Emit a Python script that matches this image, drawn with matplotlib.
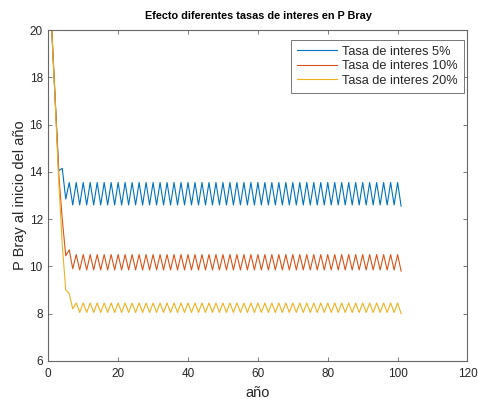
import numpy as np
import matplotlib
matplotlib.use('Agg')
import matplotlib.pyplot as plt

plt.rcParams['font.family'] = ['Liberation Sans', 'DejaVu Sans']

# P Bray al inicio de cada año, años 1..101
anios = np.arange(1, 102)

p_5 = [20.0, 17.0, 14.05, 14.15, 12.85, 13.55,
       12.6, 13.55, 12.6, 13.55, 12.6, 13.55, 12.6, 13.55, 12.6, 13.55,
       12.6, 13.55, 12.6, 13.55, 12.6, 13.55, 12.6, 13.55, 12.6, 13.55,
       12.6, 13.55, 12.6, 13.55, 12.6, 13.55, 12.6, 13.55, 12.6, 13.55,
       12.6, 13.55, 12.6, 13.55, 12.6, 13.55, 12.6, 13.55, 12.6, 13.55,
       12.6, 13.55, 12.6, 13.55, 12.6, 13.55, 12.6, 13.55, 12.6, 13.55,
       12.6, 13.55, 12.6, 13.55, 12.6, 13.55, 12.6, 13.55, 12.6, 13.55,
       12.6, 13.55, 12.6, 13.55, 12.6, 13.55, 12.6, 13.55, 12.6, 13.55,
       12.6, 13.55, 12.6, 13.55, 12.6, 13.55, 12.6, 13.55, 12.6, 13.55,
       12.6, 13.55, 12.6, 13.55, 12.6, 13.55, 12.6, 13.55, 12.6, 13.55,
       12.6, 13.55, 12.6, 13.55, 12.55]

p_10 = [20.0, 17.0, 13.9, 12.0, 10.45, 10.7,
        9.9, 10.5, 9.85, 10.5, 9.85, 10.5, 9.85, 10.5, 9.85, 10.5,
        9.85, 10.5, 9.85, 10.5, 9.85, 10.5, 9.85, 10.5, 9.85, 10.5,
        9.85, 10.5, 9.85, 10.5, 9.85, 10.5, 9.85, 10.5, 9.85, 10.5,
        9.85, 10.5, 9.85, 10.5, 9.85, 10.5, 9.85, 10.5, 9.85, 10.5,
        9.85, 10.5, 9.85, 10.5, 9.85, 10.5, 9.85, 10.5, 9.85, 10.5,
        9.85, 10.5, 9.85, 10.5, 9.85, 10.5, 9.85, 10.5, 9.85, 10.5,
        9.85, 10.5, 9.85, 10.5, 9.85, 10.5, 9.85, 10.5, 9.85, 10.5,
        9.85, 10.5, 9.85, 10.5, 9.85, 10.5, 9.85, 10.5, 9.85, 10.5,
        9.85, 10.5, 9.85, 10.5, 9.85, 10.5, 9.85, 10.5, 9.85, 10.5,
        9.85, 10.5, 9.85, 10.5, 9.8]

p_20 = [20.0, 16.9, 13.6, 10.9, 9.0, 8.85,
        8.2, 8.45, 8.05, 8.45, 8.05, 8.45, 8.05, 8.45, 8.05, 8.45,
        8.05, 8.45, 8.05, 8.45, 8.05, 8.45, 8.05, 8.45, 8.05, 8.45,
        8.05, 8.45, 8.05, 8.45, 8.05, 8.45, 8.05, 8.45, 8.05, 8.45,
        8.05, 8.45, 8.05, 8.45, 8.05, 8.45, 8.05, 8.45, 8.05, 8.45,
        8.05, 8.45, 8.05, 8.45, 8.05, 8.45, 8.05, 8.45, 8.05, 8.45,
        8.05, 8.45, 8.05, 8.45, 8.05, 8.45, 8.05, 8.45, 8.05, 8.45,
        8.05, 8.45, 8.05, 8.45, 8.05, 8.45, 8.05, 8.45, 8.05, 8.45,
        8.05, 8.45, 8.05, 8.45, 8.05, 8.45, 8.05, 8.45, 8.05, 8.45,
        8.05, 8.45, 8.05, 8.45, 8.05, 8.45, 8.05, 8.45, 8.05, 8.45,
        8.05, 8.45, 8.05, 8.45, 8.0]

etiquetas = ['Tasa de interes 5%', 'Tasa de interes 10%', 'Tasa de interes 20%']
colores = ['#0072BD', '#D95319', '#EDB120']

fig = plt.figure(figsize=(4.78, 4.01), dpi=100)
ax = fig.add_axes([0.101, 0.10, 0.877, 0.825])

for serie, etiqueta, color in zip([p_5, p_10, p_20], etiquetas, colores):
    ax.plot(anios, serie, color=color, linewidth=0.8, label=etiqueta)

ax.set_xlim(0, 120)
ax.set_ylim(6, 20)
ax.set_xticks(np.arange(0, 121, 20))
ax.set_yticks(np.arange(6, 21, 2))

gris = '#262626'
for lado in ax.spines.values():
    lado.set_color('#666666')
    lado.set_linewidth(0.8)
ax.tick_params(direction='in', top=True, right=True, length=3, width=0.6,
               color='#666666', labelcolor=gris, labelsize=8.5)
ax.tick_params(axis='x', pad=5)
ax.tick_params(axis='y', pad=4)

ax.set_title('Efecto diferentes tasas de interes en P Bray', fontsize=7.8,
             fontweight='bold', color='black', pad=8)
ax.set_xlabel('año', fontsize=10.5, color=gris, labelpad=4.5)
ax.set_ylabel('P Bray al inicio del año', fontsize=10.5, color=gris, labelpad=2)

leg = ax.legend(loc='upper right', bbox_to_anchor=(0.991, 0.970),
                borderaxespad=0, fontsize=9.2, frameon=True, fancybox=False,
                handlelength=3.1, handletextpad=0.45, labelspacing=0.2,
                borderpad=0.45)
leg.get_frame().set_edgecolor('#555555')
leg.get_frame().set_linewidth(0.7)
for texto in leg.get_texts():
    texto.set_color(gris)

fig.savefig('out.png', dpi=100)
